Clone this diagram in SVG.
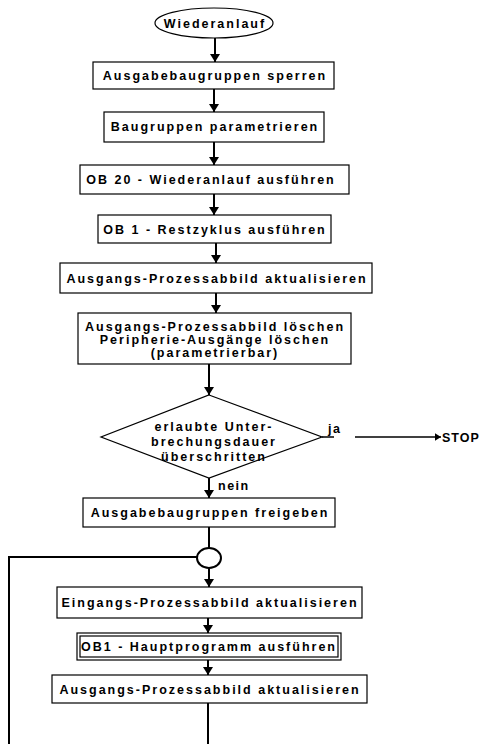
<svg xmlns="http://www.w3.org/2000/svg" width="482" height="744" viewBox="0 0 482 744">
  <style>
    .box { fill: #fff; stroke: #000; stroke-width: 1.2; }
    .lbl { font-family: "Liberation Sans", Arial, sans-serif; font-weight: bold; font-size: 12.5px; letter-spacing: 2px; fill: #000; text-anchor: middle; }
    .side { font-family: "Liberation Sans", Arial, sans-serif; font-weight: bold; font-size: 12.5px; letter-spacing: 1.5px; fill: #000; }
    .flow { fill: none; stroke: #000; stroke-width: 2; }
    .arr { marker-end: url(#head); }
  </style>
  <defs>
    <marker id="head" viewBox="0 0 8 10" refX="8" refY="5" markerWidth="4" markerHeight="5" orient="auto" markerUnits="strokeWidth">
      <path d="M0,0 L8,5 L0,10 z" fill="#000"/>
    </marker>
  </defs>
  <rect width="482" height="744" fill="#fff"/>

  <g id="connectors">
    <line class="flow arr" x1="215" y1="38" x2="215" y2="62"/>
    <line class="flow arr" x1="214" y1="89" x2="214" y2="112"/>
    <line class="flow arr" x1="214" y1="142" x2="214" y2="165"/>
    <line class="flow arr" x1="214" y1="194" x2="214" y2="215"/>
    <line class="flow arr" x1="216" y1="243" x2="216" y2="263"/>
    <line class="flow arr" x1="216" y1="293" x2="216" y2="313"/>
    <line class="flow arr" x1="209" y1="364" x2="209" y2="395"/>
    <line class="flow" x1="322" y1="437" x2="334" y2="437" style="stroke-width:1.5"/>
    <line class="flow arr" x1="355" y1="437" x2="441" y2="437" style="stroke-width:1.5"/>
    <line class="flow arr" x1="209" y1="478" x2="209" y2="498"/>
    <line class="flow" x1="209" y1="527" x2="209" y2="548"/>
    <polyline class="flow" points="197,557 9,557 9,744"/>
    <line class="flow arr" x1="209" y1="568" x2="209" y2="587"/>
    <line class="flow arr" x1="208" y1="618" x2="208" y2="633"/>
    <line class="flow arr" x1="208" y1="660" x2="208" y2="675"/>
    <line class="flow" x1="208" y1="703" x2="208" y2="744"/>
  </g>

  <g id="start">
    <ellipse class="box" cx="214" cy="23" rx="59" ry="15"/>
    <text class="lbl" x="215" y="27.5">Wiederanlauf</text>
  </g>

  <g id="sperren">
    <rect class="box" x="93" y="62" width="241" height="27"/>
    <text class="lbl" x="215" y="80">Ausgabebaugruppen sperren</text>
  </g>

  <g id="parametrieren">
    <rect class="box" x="104" y="112" width="220" height="30"/>
    <text class="lbl" x="215" y="131">Baugruppen parametrieren</text>
  </g>

  <g id="ob20">
    <rect class="box" x="80" y="165" width="269" height="29"/>
    <text class="lbl" x="211" y="184">OB 20 - Wiederanlauf ausführen</text>
  </g>

  <g id="ob1-rest">
    <rect class="box" x="98" y="215" width="233" height="28"/>
    <text class="lbl" x="215" y="233.5">OB 1 - Restzyklus ausführen</text>
  </g>

  <g id="pa-aktualisieren-1">
    <rect class="box" x="60" y="263" width="312" height="30"/>
    <text class="lbl" x="217" y="282.5">Ausgangs-Prozessabbild aktualisieren</text>
  </g>

  <g id="pa-loeschen">
    <rect class="box" x="78" y="313" width="273" height="51"/>
    <text class="lbl" x="215" y="331">Ausgangs-Prozessabbild löschen</text>
    <text class="lbl" x="215" y="344">Peripherie-Ausgänge löschen</text>
    <text class="lbl" x="215" y="357">(parametrierbar)</text>
  </g>

  <g id="decision">
    <polygon class="box" points="209,395 322,437 209,478 101,437"/>
    <text class="lbl" x="214" y="431">erlaubte Unter-</text>
    <text class="lbl" x="214" y="446">brechungsdauer</text>
    <text class="lbl" x="214" y="461">überschritten</text>
    <text class="side" x="328" y="433">ja</text>
    <text class="side" x="218" y="490">nein</text>
  </g>

  <g id="stop">
    <text class="side" x="442" y="442" style="letter-spacing:1px">STOP</text>
  </g>

  <g id="freigeben">
    <rect class="box" x="83" y="498" width="252" height="29"/>
    <text class="lbl" x="210" y="517">Ausgabebaugruppen freigeben</text>
  </g>

  <g id="junction">
    <ellipse class="box" cx="209" cy="558" rx="12" ry="10" style="stroke-width:2"/>
  </g>

  <g id="pe-aktualisieren">
    <rect class="box" x="57" y="587" width="305" height="31"/>
    <text class="lbl" x="210" y="607">Eingangs-Prozessabbild aktualisieren</text>
  </g>

  <g id="ob1-haupt">
    <rect class="box" x="77" y="633" width="264" height="27"/>
    <rect class="box" x="80" y="636" width="258" height="21"/>
    <text class="lbl" x="209" y="651">OB1 - Hauptprogramm ausführen</text>
  </g>

  <g id="pa-aktualisieren-2">
    <rect class="box" x="52" y="675" width="315" height="28"/>
    <text class="lbl" x="210" y="694">Ausgangs-Prozessabbild aktualisieren</text>
  </g>
</svg>
